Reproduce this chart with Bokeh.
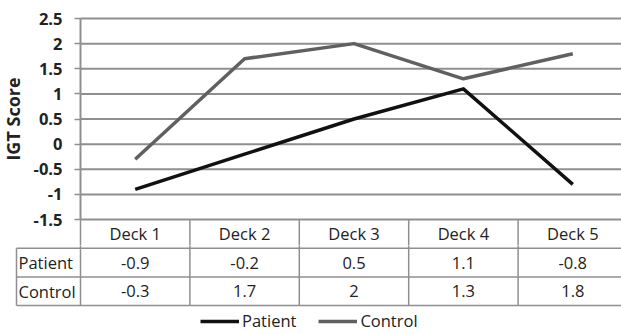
from bokeh.plotting import figure
from bokeh.layouts import column
from bokeh.models import Range1d, FixedTicker, Legend, LegendItem
from bokeh.embed import file_html
from bokeh.resources import INLINE
from bokeh.core.properties import value

# ---------------- data ----------------
decks = ["Deck 1", "Deck 2", "Deck 3", "Deck 4", "Deck 5"]
series_names = ["Patient", "Control"]
patient = [-0.9, -0.2, 0.5, 1.1, -0.8]
control = [-0.3, 1.7, 2.0, 1.3, 1.8]
patient_labels = ["-0.9", "-0.2", "0.5", "1.1", "-0.8"]
control_labels = ["-0.3", "1.7", "2", "1.3", "1.8"]
y_ticks = [-1.5, -1, -0.5, 0, 0.5, 1, 1.5, 2, 2.5]
y_tick_labels = ["-1.5", "-1", "-0.5", "0", "0.5", "1", "1.5", "2", "2.5"]
y_title = "IGT Score"

# ---------------- layout constants ----------------
FONT = "Open Sans"
FS = "16.5px"
W = 621
PX_X = 109.4          # pixels per deck column
AXIS_PX = 80          # pixel x of the y axis
TABLE_PX = 16         # pixel x of the table's left border
PX_Y = 50.25          # pixels per y unit
TOP_PX = 18           # pixel y of the top gridline
TOP_H = 245
BOT_H = 334 - TOP_H
ROW_PX = 28.7
ROW0_PX = 219         # pixel of table top (y = -1.5)

GRID_C = "#8f8f8f"
PAT_C = "#111111"
CON_C = "#606060"
TEXT_C = "#222222"

n = len(decks)
xs = [i + 1 for i in range(n)]
x0 = 0.5 - AXIS_PX / PX_X
x_end = 0.5 + (W - AXIS_PX) / PX_X
y_top = y_ticks[-1] + TOP_PX / PX_Y
y_start = y_top - TOP_H / PX_Y
row_h = ROW_PX / PX_Y
div_x = [0.5] + [i + 0.5 for i in range(1, n + 1)]
label_left = x0 + TABLE_PX / PX_X

# ---------------- line chart + header row ----------------
p = figure(width=W, height=TOP_H, output_backend="svg", toolbar_location=None,
           x_range=Range1d(x0, x_end), y_range=Range1d(y_start, y_top),
           x_axis_location=None,
           min_border_left=0, min_border_right=0,
           min_border_top=0, min_border_bottom=0)
p.outline_line_color = None
p.background_fill_color = "white"
p.border_fill_color = "white"
p.grid.visible = False

ax = p.yaxis[0]
ax.fixed_location = 0.5
ax.bounds = (y_ticks[0], y_ticks[-1])
ax.ticker = FixedTicker(ticks=y_ticks)
ax.major_label_overrides = {t: s for t, s in zip(y_ticks, y_tick_labels)}
ax.axis_line_color = GRID_C
ax.axis_line_width = 2
ax.major_tick_line_color = GRID_C
ax.major_tick_line_width = 1.5
ax.major_tick_out = 6
ax.major_tick_in = 0
ax.minor_tick_line_color = None
ax.major_label_standoff = 12
ax.major_label_text_font = FONT
ax.major_label_text_font_size = FS
ax.major_label_text_font_style = "bold"
ax.major_label_text_color = TEXT_C
ax.axis_label = y_title
ax.axis_label_text_font = FONT
ax.axis_label_text_font_size = "18px"
ax.axis_label_text_font_style = "bold"
ax.axis_label_text_color = TEXT_C
ax.axis_label_standoff = 6

# horizontal gridlines from the axis to the right edge
m = len(y_ticks)
p.segment(x0=[0.5] * m, y0=y_ticks, x1=[x_end] * m, y1=y_ticks,
          line_color=GRID_C, line_width=2)

p.line(xs, control, line_color=CON_C, line_width=3.5, line_join="round")
p.line(xs, patient, line_color=PAT_C, line_width=3.5, line_join="round")

# header row: dividers and deck names
k = len(div_x)
p.segment(x0=div_x, y0=[y_ticks[0]] * k, x1=div_x, y1=[y_start] * k,
          line_color=GRID_C, line_width=1.5)
p.text(x=xs, y=[y_ticks[0] - row_h / 2] * n, text=decks,
       text_align="center", text_baseline="middle",
       text_font=value(FONT), text_font_size=FS, text_color=TEXT_C)

# ---------------- data rows ----------------
t_ytop = (TOP_H - ROW0_PX) / ROW_PX
t_ybot = (334 - ROW0_PX) / ROW_PX

t = figure(width=W, height=BOT_H, output_backend="svg", toolbar_location=None,
           x_range=Range1d(x0, x_end), y_range=Range1d(t_ybot, t_ytop),
           x_axis_location=None, y_axis_location=None,
           min_border_left=0, min_border_right=0,
           min_border_top=0, min_border_bottom=0)
t.outline_line_color = None
t.grid.visible = False
t.background_fill_color = "white"
t.border_fill_color = "white"

t.segment(x0=div_x, y0=[0] * k, x1=div_x, y1=[3] * k,
          line_color=GRID_C, line_width=1.5)
t.segment(x0=[label_left], y0=[1], x1=[label_left], y1=[3],
          line_color=GRID_C, line_width=1.5)
t.segment(x0=[label_left] * 3, y0=[1, 2, 3], x1=[x_end] * 3, y1=[1, 2, 3],
          line_color=GRID_C, line_width=1.5)

t.text(x=xs, y=[1.5] * n, text=patient_labels, text_align="center", text_baseline="middle",
       text_font=value(FONT), text_font_size=FS, text_color=TEXT_C)
t.text(x=xs, y=[2.5] * n, text=control_labels, text_align="center", text_baseline="middle",
       text_font=value(FONT), text_font_size=FS, text_color=TEXT_C)
t.text(x=[label_left + 2 / PX_X] * 2, y=[1.5, 2.5], text=series_names,
       text_align="left", text_baseline="middle",
       text_font=value(FONT), text_font_size=FS, text_color=TEXT_C)

# legend (proxy renderers styled like the chart lines, with no visible points)
nan = float("nan")
r_p = t.line(x=[nan, nan], y=[nan, nan], line_color=PAT_C, line_width=3.5)
r_c = t.line(x=[nan, nan], y=[nan, nan], line_color=CON_C, line_width=3.5)
leg = Legend(items=[LegendItem(label=series_names[0], renderers=[r_p]),
                    LegendItem(label=series_names[1], renderers=[r_c])],
             orientation="horizontal", location=(200, 2),
             padding=0, margin=0, spacing=22, label_standoff=3,
             glyph_width=39, glyph_height=20, label_height=20,
             border_line_color=None, background_fill_alpha=0,
             label_text_font=FONT, label_text_font_size=FS,
             label_text_color=TEXT_C)
t.add_layout(leg)

layout = column(p, t, spacing=0)
open("out.html", "w").write(file_html(layout, INLINE))
